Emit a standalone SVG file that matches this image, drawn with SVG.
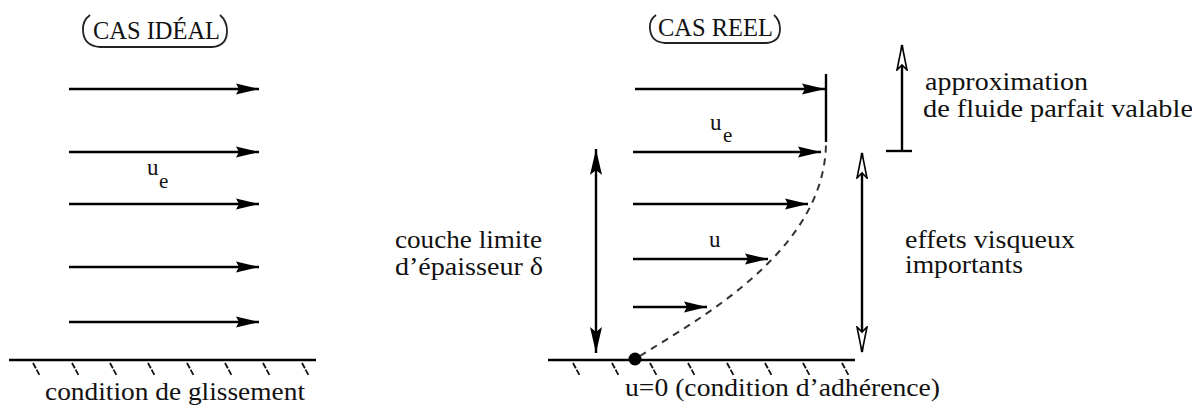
<svg xmlns="http://www.w3.org/2000/svg" width="1192" height="407" viewBox="0 0 1192 407" font-family="'Liberation Serif', Tinos, 'DejaVu Serif', 'Noto Serif', 'Times New Roman', Times, serif">
<style>
text{font-family:'Liberation Serif', Tinos, 'DejaVu Serif', 'Noto Serif', 'Times New Roman', Times, serif;fill:#111;}
.lbl{font-size:25px;}
.sym{font-size:23px;}
.sub{font-size:21px;}
.arr{stroke:#000;stroke-width:2.6;fill:none;marker-end:url(#headH);}
.wall{stroke:#000;stroke-width:2.4;}
.tick{stroke:#111;stroke-width:1.8;stroke-dasharray:6 1.5;}
.box{fill:none;stroke:#222;stroke-width:1.8;}
.dim{stroke:#000;stroke-width:2.4;fill:none;}
</style>
<defs>
<marker id="headH" markerUnits="userSpaceOnUse" markerWidth="24" markerHeight="14" refX="23" refY="6" orient="auto">
<path d="M0,0.5 L23,6 L0,11.5 L3,6 z" fill="#000"/>
</marker>
<marker id="headV" markerUnits="userSpaceOnUse" markerWidth="27" markerHeight="14" refX="26" refY="6.5" orient="auto-start-reverse">
<path d="M0,0.5 L26,6.5 L0,12.5 L5,6.5 z" fill="#000"/>
</marker>
<marker id="headO" markerUnits="userSpaceOnUse" markerWidth="28" markerHeight="14" refX="26" refY="6" orient="auto-start-reverse">
<path d="M1,1 L26,6 L1,11 L6,6 z" fill="#fff" stroke="#000" stroke-width="1.6"/>
</marker>
</defs>

<g id="ideal-title">
<path class="box" d="M90 15 Q82 21 83 31 Q84 46 100 47 L212 47 Q227 46 227 31 Q227 21 220 15"/>
<text class="lbl" x="93" y="39" textLength="127" lengthAdjust="spacingAndGlyphs">CAS IDÉAL</text>
</g>

<g id="reel-title">
<path class="box" d="M656 15 Q649 20 650 29 Q651 42 665 43 L766 43 Q780 42 780 29 Q780 20 774 15"/>
<text class="lbl" x="658" y="36" textLength="115" lengthAdjust="spacingAndGlyphs">CAS REEL</text>
</g>

<g id="ideal-wall">
<line class="wall" x1="9" y1="360" x2="316" y2="360"/>
<g>
<line class="tick" x1="33" y1="363" x2="40" y2="376"/>
<line class="tick" x1="72" y1="363" x2="79" y2="376"/>
<line class="tick" x1="110" y1="363" x2="117" y2="376"/>
<line class="tick" x1="148" y1="363" x2="155" y2="376"/>
<line class="tick" x1="187" y1="363" x2="194" y2="376"/>
<line class="tick" x1="225" y1="363" x2="232" y2="376"/>
<line class="tick" x1="263" y1="363" x2="270" y2="376"/>
<line class="tick" x1="302" y1="363" x2="309" y2="376"/>
</g>
<text class="lbl" x="45" y="400" textLength="260" lengthAdjust="spacingAndGlyphs">condition de glissement</text>
</g>

<g id="reel-wall">
<line class="wall" x1="548" y1="360" x2="855" y2="360"/>
<g>
<line class="tick" x1="573" y1="363" x2="580" y2="376"/>
<line class="tick" x1="612" y1="363" x2="619" y2="376"/>
<line class="tick" x1="650" y1="363" x2="657" y2="376"/>
<line class="tick" x1="688" y1="363" x2="695" y2="376"/>
<line class="tick" x1="727" y1="363" x2="734" y2="376"/>
<line class="tick" x1="765" y1="363" x2="772" y2="376"/>
<line class="tick" x1="803" y1="363" x2="810" y2="376"/>
<line class="tick" x1="842" y1="363" x2="849" y2="376"/>
</g>
<circle cx="635" cy="359" r="6.5" fill="#000"/>
<text class="lbl" x="625" y="396" textLength="315" lengthAdjust="spacingAndGlyphs">u=0 (condition d’adhérence)</text>
</g>

<g id="connectors">
<line class="arr" x1="69" y1="89" x2="259" y2="89"/>
<line class="arr" x1="69" y1="152" x2="259" y2="152"/>
<line class="arr" x1="69" y1="204" x2="259" y2="204"/>
<line class="arr" x1="69" y1="267" x2="259" y2="267"/>
<line class="arr" x1="69" y1="322" x2="259" y2="322"/>
<line class="arr" x1="635" y1="89" x2="825" y2="89"/>
<line class="arr" x1="633" y1="152" x2="821" y2="152"/>
<line class="arr" x1="633" y1="204" x2="808" y2="204"/>
<line class="arr" x1="633" y1="259" x2="768" y2="259"/>
<line class="arr" x1="633" y1="307" x2="707" y2="307"/>
<line x1="826" y1="74" x2="826" y2="142" stroke="#000" stroke-width="2.4"/>
<path d="M640 356 C700 318 826 250 826 142" fill="none" stroke="#333" stroke-width="2" stroke-dasharray="7 6"/>
<line class="dim" x1="596" y1="149" x2="596" y2="353" marker-start="url(#headV)" marker-end="url(#headV)"/>
<line class="dim" x1="862" y1="153" x2="862" y2="352" marker-start="url(#headO)" marker-end="url(#headO)"/>
<line class="dim" x1="902" y1="45" x2="902" y2="151" marker-start="url(#headO)"/>
<line x1="886" y1="151" x2="912" y2="151" stroke="#000" stroke-width="2.4"/>
</g>

<g id="ideal-labels">
<text class="sym" x="147" y="175">u</text>
<text class="sub" x="159" y="188">e</text>
</g>

<g id="reel-labels">
<text class="sym" x="710" y="130">u</text>
<text class="sub" x="723" y="142">e</text>
<text class="sym" x="709" y="247">u</text>
<text class="lbl" x="395" y="248" textLength="147" lengthAdjust="spacingAndGlyphs">couche limite</text>
<text class="lbl" x="395" y="275" textLength="148" lengthAdjust="spacingAndGlyphs">d’épaisseur δ</text>
<text class="lbl" x="925" y="90" textLength="163" lengthAdjust="spacingAndGlyphs">approximation</text>
<text class="lbl" x="923" y="117" textLength="270" lengthAdjust="spacingAndGlyphs">de fluide parfait valable</text>
<text class="lbl" x="905" y="248" textLength="170" lengthAdjust="spacingAndGlyphs">effets visqueux</text>
<text class="lbl" x="905" y="273" textLength="118" lengthAdjust="spacingAndGlyphs">importants</text>
</g>
</svg>
